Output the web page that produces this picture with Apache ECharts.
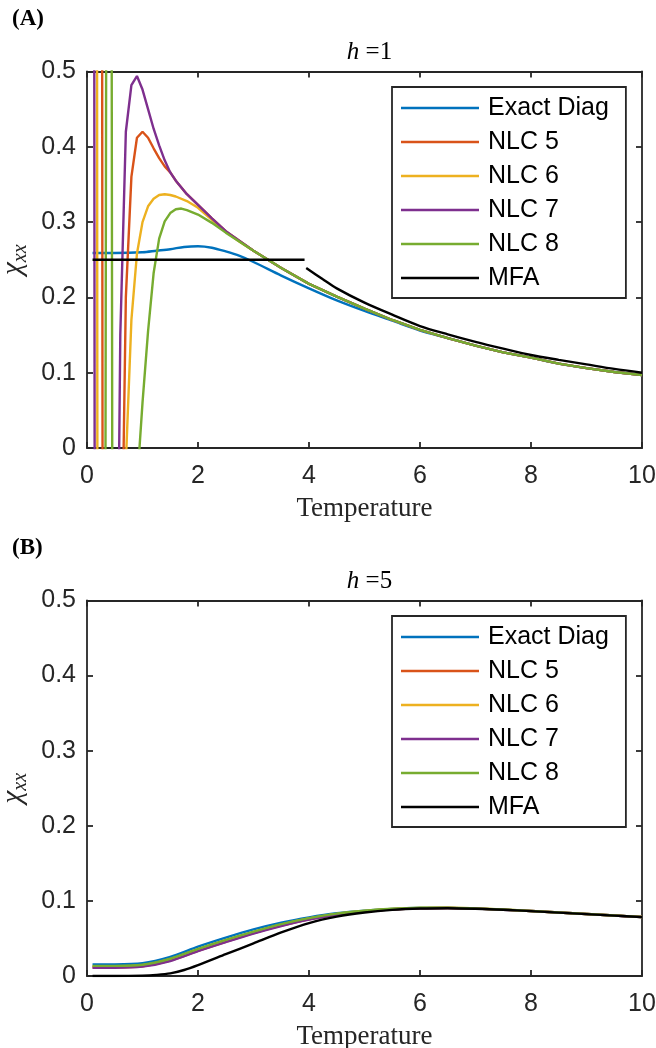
<!DOCTYPE html>
<html>
<head>
<meta charset="utf-8">
<script src="https://cdn.jsdelivr.net/npm/echarts@6/dist/echarts.min.js"></script>
<style>
  html, body { margin: 0; padding: 0; background: #ffffff; }
  #chart { width: 656px; height: 1048px; }
</style>
</head>
<body>
<div id="chart"></div>
<script>
// ---- Panel A (h = 1): susceptibility chi_xx vs temperature ----
const exactA = [[0.1,0.259],[0.5,0.259],[1.0,0.260],[1.25,0.262],[1.5,0.264],[1.75,0.267],[2.0,0.268],[2.25,0.266],[2.5,0.261],[2.75,0.255],[3.0,0.247],[3.5,0.229],[4.0,0.212],[4.5,0.196],[5.0,0.182],[5.5,0.169],[6.0,0.156],[6.5,0.146],[7.0,0.136],[7.5,0.127],[8.0,0.120],[8.5,0.112],[9.0,0.106],[9.5,0.101],[10,0.097]];

const nlc5A = [[0.1,5],[0.2,6],[0.3,-1.5],[0.4,-2.2],[0.5,-1.2],[0.6,-0.3],[0.7,0.2],[0.8,0.36],[0.9,0.412],[1.0,0.42],[1.1,0.412],[1.2,0.398],[1.3,0.385],[1.4,0.374],[1.5,0.366],[1.6,0.355],[1.8,0.337],[2.0,0.323],[2.25,0.305],[2.5,0.288],[2.75,0.275],[3.0,0.262],[3.5,0.239],[4.0,0.218],[4.5,0.201],[5.0,0.185],[5.5,0.170],[6.0,0.157],[6.5,0.146],[7.0,0.136],[7.5,0.127],[8.0,0.120],[8.5,0.112],[9.0,0.106],[9.5,0.101],[10,0.097]];

const nlc6A = [[0.1,8],[0.2,-1.2],[0.3,-2.5],[0.4,-2],[0.5,-1.2],[0.6,-0.5],[0.7,-0.02],[0.8,0.17],[0.9,0.258],[1.0,0.300],[1.1,0.321],[1.2,0.331],[1.3,0.336],[1.4,0.337],[1.5,0.336],[1.6,0.334],[1.8,0.328],[2.0,0.319],[2.25,0.303],[2.5,0.287],[2.75,0.274],[3.0,0.262],[3.5,0.239],[4.0,0.218],[4.5,0.201],[5.0,0.185],[5.5,0.170],[6.0,0.157],[6.5,0.146],[7.0,0.136],[7.5,0.127],[8.0,0.120],[8.5,0.112],[9.0,0.106],[9.5,0.101],[10,0.097]];

const nlc7A = [[0.1,3],[0.2,-5],[0.3,-4],[0.4,-2],[0.5,-0.6],[0.6,0.15],[0.7,0.42],[0.8,0.482],[0.9,0.494],[1.0,0.476],[1.1,0.450],[1.2,0.424],[1.3,0.402],[1.4,0.382],[1.5,0.366],[1.6,0.355],[1.8,0.337],[2.0,0.323],[2.25,0.305],[2.5,0.288],[2.75,0.275],[3.0,0.262],[3.5,0.239],[4.0,0.218],[4.5,0.201],[5.0,0.185],[5.5,0.170],[6.0,0.157],[6.5,0.146],[7.0,0.136],[7.5,0.127],[8.0,0.120],[8.5,0.112],[9.0,0.106],[9.5,0.101],[10,0.097]];

const nlc8A = [[0.1,-3],[0.2,-4],[0.3,-1.5],[0.4,3],[0.5,-2.5],[0.6,-3],[0.7,-2],[0.8,-1],[0.9,-0.05],[1.0,0.06],[1.1,0.155],[1.2,0.232],[1.3,0.278],[1.4,0.301],[1.5,0.312],[1.6,0.317],[1.7,0.318],[1.8,0.316],[2.0,0.310],[2.25,0.299],[2.5,0.286],[2.75,0.274],[3.0,0.262],[3.5,0.239],[4.0,0.218],[4.5,0.201],[5.0,0.185],[5.5,0.170],[6.0,0.157],[6.5,0.146],[7.0,0.136],[7.5,0.127],[8.0,0.120],[8.5,0.112],[9.0,0.106],[9.5,0.101],[10,0.097]];

// mean-field result: flat below the transition, then a separate branch above it
const mfaA = [[0.1,0.25],[3.92,0.25],[3.935,'-'],[3.95,0.239],[4.25,0.224],[4.5,0.212],[5.0,0.193],[5.5,0.177],[6.0,0.162],[6.5,0.151],[7.0,0.141],[7.5,0.132],[8.0,0.1235],[8.5,0.117],[9.0,0.111],[9.5,0.105],[10,0.100]];

// ---- Panel B (h = 5) ----
const exactB = [[0.1,0.0155],[0.5,0.0155],[1.0,0.017],[1.5,0.0255],[2.0,0.039],[2.5,0.051],[3.0,0.062],[3.5,0.071],[4.0,0.078],[4.5,0.0835],[5.0,0.087],[5.5,0.0893],[6.0,0.0905],[6.5,0.0907],[7.0,0.0898],[7.5,0.0883],[8.0,0.0865],[8.5,0.0845],[9.0,0.0825],[9.5,0.0805],[10,0.0785]];
const nlc5B = [[0.1,0.0115],[0.5,0.0115],[1.0,0.013],[1.5,0.0205],[2.0,0.0335],[2.5,0.0455],[3.0,0.057],[3.5,0.067],[4.0,0.0755],[4.5,0.0818],[5.0,0.086],[5.5,0.0888],[6.0,0.0903],[6.5,0.0906],[7.0,0.0898],[7.5,0.0883],[8.0,0.0865],[8.5,0.0845],[9.0,0.0825],[9.5,0.0805],[10,0.0785]];
const nlc6B = [[0.1,0.0128],[0.5,0.0128],[1.0,0.0145],[1.5,0.0225],[2.0,0.0355],[2.5,0.0475],[3.0,0.0585],[3.5,0.0685],[4.0,0.0765],[4.5,0.0828],[5.0,0.0866],[5.5,0.0893],[6.0,0.0907],[6.5,0.0909],[7.0,0.0899],[7.5,0.0884],[8.0,0.0866],[8.5,0.0846],[9.0,0.0826],[9.5,0.0806],[10,0.0786]];
const nlc7B = [[0.1,0.011],[0.5,0.011],[1.0,0.0125],[1.5,0.020],[2.0,0.033],[2.5,0.045],[3.0,0.0565],[3.5,0.0665],[4.0,0.075],[4.5,0.0815],[5.0,0.0858],[5.5,0.0887],[6.0,0.0902],[6.5,0.0906],[7.0,0.0898],[7.5,0.0883],[8.0,0.0865],[8.5,0.0845],[9.0,0.0825],[9.5,0.0805],[10,0.0785]];
const nlc8B = [[0.1,0.0135],[0.5,0.0135],[1.0,0.015],[1.5,0.023],[2.0,0.036],[2.5,0.048],[3.0,0.059],[3.5,0.069],[4.0,0.077],[4.5,0.083],[5.0,0.0868],[5.5,0.0895],[6.0,0.0908],[6.5,0.091],[7.0,0.090],[7.5,0.0885],[8.0,0.0866],[8.5,0.0846],[9.0,0.0826],[9.5,0.0806],[10,0.0786]];
const mfaB = [[0.1,0],[0.5,0],[1.0,0.0005],[1.25,0.0015],[1.5,0.0035],[1.75,0.008],[2.0,0.0145],[2.5,0.029],[3.0,0.0435],[3.5,0.058],[4.0,0.0705],[4.5,0.079],[5.0,0.0845],[5.5,0.088],[6.0,0.0898],[6.5,0.0903],[7.0,0.0896],[7.5,0.0882],[8.0,0.0864],[8.5,0.0844],[9.0,0.0824],[9.5,0.0804],[10,0.0784]];

const seriesNames = ['Exact Diag', 'NLC 5', 'NLC 6', 'NLC 7', 'NLC 8', 'MFA'];
const seriesColors = ['#0072BD', '#D95319', '#EDB120', '#7E2F8E', '#77AC30', '#000000'];
const panelTitles = ['1', '5'];
const panelTags = ['(A)', '(B)'];
const xTicks = { min: 0, max: 10, interval: 2 };
const yTicks = { min: 0, max: 0.5, interval: 0.1 };

const axisColor = '#262626';
const sansFont = 'Liberation Sans';
const serifFont = 'Liberation Serif';

const panels = [
  { top: 71.5, height: 376.5, data: [exactA, nlc5A, nlc6A, nlc7A, nlc8A, mfaA], smoothNLC: false },
  { top: 600.5, height: 375.5, data: [exactB, nlc5B, nlc6B, nlc7B, nlc8B, mfaB], smoothNLC: 0.3 }
];

const grid = [], xAxis = [], yAxis = [], series = [], legend = [], title = [];

panels.forEach(function (p, k) {
  grid.push({
    left: 87, right: 14, top: p.top, height: p.height, show: false,
    containLabel: false, outerBoundsMode: 'none'
  });

  const lineStyle = { color: axisColor, width: 1.8 };
  // bottom axis with labels
  xAxis.push({
    gridIndex: k, type: 'value', position: 'bottom',
    min: xTicks.min, max: xTicks.max, interval: xTicks.interval,
    axisLine: { onZero: false, lineStyle: lineStyle },
    axisTick: { inside: true, length: 6, lineStyle: lineStyle },
    axisLabel: { color: axisColor, fontFamily: sansFont, fontSize: 25, margin: 16 },
    splitLine: { show: false },
    name: 'Temperature', nameLocation: 'middle', nameGap: 47,
    nameTextStyle: { fontFamily: serifFont, fontSize: 27, color: axisColor }
  });
  // top box edge
  xAxis.push({
    gridIndex: k, type: 'value', position: 'top',
    min: xTicks.min, max: xTicks.max, interval: xTicks.interval,
    axisLine: { onZero: false, lineStyle: lineStyle },
    axisTick: { inside: true, length: 6, lineStyle: lineStyle },
    axisLabel: { show: false }, splitLine: { show: false }
  });
  // left axis with labels
  yAxis.push({
    gridIndex: k, type: 'value', position: 'left',
    min: yTicks.min, max: yTicks.max, interval: yTicks.interval,
    axisLine: { onZero: false, lineStyle: lineStyle },
    axisTick: { inside: true, length: 6, lineStyle: lineStyle },
    axisLabel: { color: axisColor, fontFamily: sansFont, fontSize: 25, margin: 11 },
    splitLine: { show: false },
    name: '{c|χ}{s|xx}', nameLocation: 'middle', nameGap: 53, nameRotate: 90,
    nameTextStyle: {
      rich: {
        c: { fontFamily: serifFont, fontStyle: 'italic', fontSize: 29, color: axisColor, lineHeight: 34, verticalAlign: 'middle' },
        s: { fontFamily: serifFont, fontStyle: 'italic', fontSize: 20, color: axisColor, lineHeight: 34, verticalAlign: 'bottom' }
      }
    }
  });
  // right box edge
  yAxis.push({
    gridIndex: k, type: 'value', position: 'right',
    min: yTicks.min, max: yTicks.max, interval: yTicks.interval,
    axisLine: { onZero: false, lineStyle: lineStyle },
    axisTick: { inside: true, length: 6, lineStyle: lineStyle },
    axisLabel: { show: false }, splitLine: { show: false }
  });

  p.data.forEach(function (d, i) {
    const isNLC = i >= 1 && i <= 4;
    series.push({
      name: seriesNames[i], type: 'line',
      xAxisIndex: 2 * k, yAxisIndex: 2 * k,
      data: d, showSymbol: false, symbol: 'none',
      smooth: isNLC ? p.smoothNLC : 0.3,
      clip: true, connectNulls: false,
      lineStyle: { color: seriesColors[i], width: 2.4 },
      itemStyle: { color: seriesColors[i] },
      emphasis: { disabled: true },
      z: 2 + i
    });
  });

  legend.push({
    left: 392, top: p.top + 15.5, orient: 'vertical',
    padding: [7, 17, 6, 9], itemWidth: 78, itemHeight: 2.5, itemGap: 6,
    icon: 'rect', borderColor: axisColor, borderWidth: 1.8, backgroundColor: '#ffffff',
    selectedMode: false,
    textStyle: { fontFamily: sansFont, fontSize: 25, color: '#000000', lineHeight: 28, padding: [0, 0, 0, 4] },
    data: seriesNames
  });

  title.push({
    text: panelTags[k], left: 7, top: p.top - 69,
    textStyle: { fontFamily: serifFont, fontWeight: 'bold', fontSize: 23, color: '#000000' }
  });
  title.push({
    text: '{i|h}{r| =' + panelTitles[k] + '}', left: 364.5, top: p.top - 37, textAlign: 'center',
    textStyle: {
      fontWeight: 'normal',
      rich: {
        i: { fontFamily: serifFont, fontStyle: 'italic', fontWeight: 'normal', fontSize: 25, color: '#000000' },
        r: { fontFamily: serifFont, fontWeight: 'normal', fontSize: 25, color: '#000000' }
      }
    }
  });
});

const chart = echarts.init(document.getElementById('chart'), null, { renderer: 'canvas' });
chart.setOption({
  backgroundColor: '#ffffff',
  animation: false,
  title: title,
  grid: grid,
  xAxis: xAxis,
  yAxis: yAxis,
  legend: legend,
  series: series
});
</script>
</body>
</html>
